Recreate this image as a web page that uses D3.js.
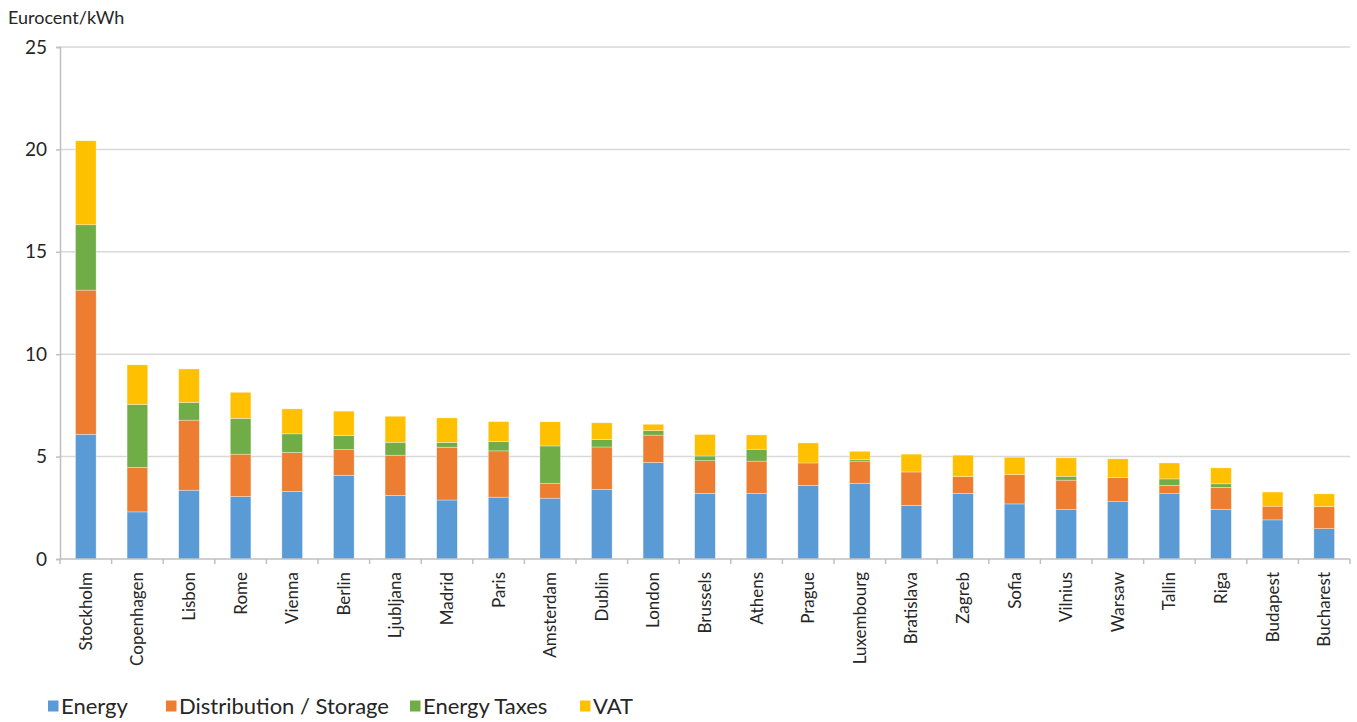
<!DOCTYPE html>
<html>
<head>
<meta charset="utf-8">
<script src="https://cdn.jsdelivr.net/npm/d3@7"></script>
<style>
  body { margin: 0; background: #fff; }
  svg text { font-family: Lato, "Open Sans", sans-serif; fill: #262626; }
</style>
</head>
<body>
<svg id="chart" width="1357" height="722"></svg>
<script>
// Household electricity price components by capital city (Eurocent/kWh)
const cities = ["Stockholm", "Copenhagen", "Lisbon", "Rome", "Vienna", "Berlin", "Ljubljana",
  "Madrid", "Paris", "Amsterdam", "Dublin", "London", "Brussels", "Athens", "Prague",
  "Luxembourg", "Bratislava", "Zagreb", "Sofia", "Vilnius", "Warsaw", "Tallin", "Riga",
  "Budapest", "Bucharest"];
const energy       = [6.09, 2.30, 3.36, 3.05, 3.29, 4.09, 3.11, 2.88, 3.02, 2.97, 3.39, 4.71, 3.21, 3.21, 3.60, 3.70, 2.62, 3.21, 2.69, 2.41, 2.80, 3.19, 2.43, 1.91, 1.48];
const distribution = [7.04, 2.17, 3.42, 2.07, 1.91, 1.25, 1.96, 2.58, 2.26, 0.73, 2.08, 1.34, 1.59, 1.57, 1.09, 1.08, 1.63, 0.81, 1.43, 1.44, 1.17, 0.41, 1.07, 0.67, 1.08];
const energyTaxes  = [3.19, 3.08, 0.87, 1.75, 0.91, 0.69, 0.63, 0.23, 0.45, 1.82, 0.36, 0.22, 0.23, 0.58, 0.00, 0.09, 0.00, 0.00, 0.00, 0.19, 0.00, 0.31, 0.17, 0.00, 0.00];
const vat          = [4.10, 1.93, 1.63, 1.27, 1.22, 1.19, 1.27, 1.20, 0.98, 1.18, 0.82, 0.31, 1.05, 0.70, 0.98, 0.39, 0.87, 1.05, 0.85, 0.90, 0.92, 0.78, 0.78, 0.69, 0.62];
const seriesNames  = ["Energy", "Distribution / Storage", "Energy Taxes", "VAT"];
const yTicks       = [0, 5, 10, 15, 20, 25];
const yTitle       = "Eurocent/kWh";

const colors = ["#5B9BD5", "#ED7D31", "#70AD47", "#FFC000"];
const seriesValues = [energy, distribution, energyTaxes, vat];

const rows = cities.map((c, i) => {
  const r = { city: c };
  seriesNames.forEach((s, k) => { r[s] = seriesValues[k][i]; });
  return r;
});
const stacked = d3.stack().keys(seriesNames)(rows);

const svg = d3.select("#chart");
const plotLeft = 60, plotRight = 1350, plotTop = 47, plotBottom = 559;

const x = d3.scaleBand().domain(cities).range([plotLeft, plotRight]).paddingInner(0.6).paddingOuter(0.3);
const y = d3.scaleLinear().domain([0, 25]).range([plotBottom, plotTop]);

// horizontal gridlines
svg.append("g").selectAll("line").data(yTicks.filter(t => t > 0)).join("line")
  .attr("x1", plotLeft).attr("x2", plotRight)
  .attr("y1", d => y(d)).attr("y2", d => y(d))
  .attr("stroke", "#d9d9d9").attr("stroke-width", 1.5);

// y axis
const yAxis = svg.append("g").attr("transform", `translate(${plotLeft},0)`)
  .call(d3.axisLeft(y).tickValues(yTicks).tickSize(4).tickPadding(9).tickFormat(d3.format("d")));
yAxis.select(".domain").attr("stroke", "#bfbfbf").attr("stroke-width", 1.5);
yAxis.selectAll(".tick line").attr("stroke", "#bfbfbf").attr("stroke-width", 1.5);
yAxis.selectAll(".tick text").attr("font-size", 19).attr("font-family", null).style("fill", "#262626");

// stacked bars
svg.append("g").selectAll("g").data(stacked).join("g")
  .attr("fill", (d, i) => colors[i])
  .selectAll("rect").data(d => d).join("rect")
  .attr("x", d => x(d.data.city))
  .attr("width", x.bandwidth())
  .attr("y", d => y(d[1]))
  .attr("height", d => Math.max(0, y(d[0]) - y(d[1])))
  .attr("stroke", "rgba(255,255,255,0.55)").attr("stroke-width", 0.6);

// x axis with ticks at category boundaries
const step = x.step();
const xg = svg.append("g");
xg.append("line").attr("x1", plotLeft).attr("x2", plotRight).attr("y1", plotBottom).attr("y2", plotBottom)
  .attr("stroke", "#bfbfbf").attr("stroke-width", 1.5);
xg.selectAll("line.tk").data(d3.range(cities.length + 1)).join("line").attr("class", "tk")
  .attr("x1", i => plotLeft + i * step).attr("x2", i => plotLeft + i * step)
  .attr("y1", plotBottom).attr("y2", plotBottom + 5)
  .attr("stroke", "#bfbfbf").attr("stroke-width", 1.5);
xg.selectAll("text").data(cities).join("text")
  .attr("transform", d => `translate(${x(d) + x.bandwidth() / 2 + 6},${plotBottom + 13}) rotate(-90)`)
  .attr("text-anchor", "end")
  .attr("font-size", 17)
  .text(d => d);

// axis title
svg.append("text").attr("x", 8).attr("y", 24).attr("font-size", 18).text(yTitle);

// legend
const legendX = [48, 166, 410, 580];
const lg = svg.append("g");
seriesNames.forEach((s, i) => {
  lg.append("rect").attr("x", legendX[i]).attr("y", 700.5).attr("width", 10.5).attr("height", 11).attr("fill", colors[i]);
  lg.append("text").attr("x", legendX[i] + 13).attr("y", 713.5).attr("font-size", 22).text(s);
});
</script>
</body>
</html>
